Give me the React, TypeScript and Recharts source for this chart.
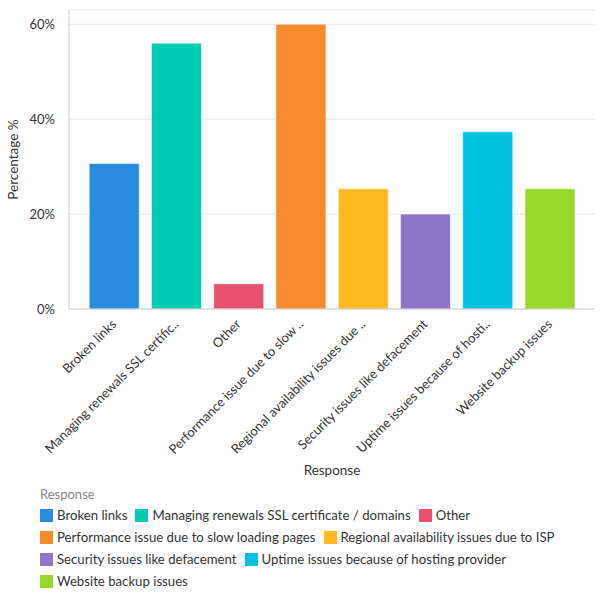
import { BarChart, Bar, Cell, XAxis, YAxis, CartesianGrid } from 'recharts';

// Survey: which website issues respondents ran into (share of 75 answers)
const categories = [
  'Broken links',
  'Managing renewals SSL certificate / domains',
  'Other',
  'Performance issue due to slow loading pages',
  'Regional availability issues due to ISP',
  'Security issues like defacement',
  'Uptime issues because of hosting provider',
  'Website backup issues',
];

// x axis shows clipped versions of the long names
const tickLabels = [
  'Broken links',
  'Managing renewals SSL certific..',
  'Other',
  'Performance issue due to slow ..',
  'Regional availability issues due ..',
  'Security issues like defacement',
  'Uptime issues because of hosti..',
  'Website backup issues',
];

const shares = [30.67, 56, 5.33, 60, 25.33, 20, 37.33, 25.33];

const colors = ['#2a8be1', '#00ccb4', '#e9526f', '#f88a2e', '#fdb822', '#8f74cc', '#00c1e0', '#96d92b'];

const yTicks = [0, 20, 40, 60];

const FONT = 'Lato, "Noto Sans", sans-serif';
const TEXT = '#333333';

const data = categories.map((name, i) => ({ name, label: tickLabels[i], value: shares[i] }));

function AngledTick({ x, y, index }: any) {
  return (
    <text
      transform={`translate(${x + 3},${y + 8}) rotate(-45)`}
      textAnchor="end"
      fontSize={13}
      fontFamily={FONT}
      fill={TEXT}
    >
      {tickLabels[index]}
    </text>
  );
}

function YTitle({ viewBox }: any) {
  const cy = viewBox.y + viewBox.height / 2;
  return (
    <text
      transform={`translate(18,${cy}) rotate(-90)`}
      textAnchor="middle"
      fontSize={13.5}
      fontFamily={FONT}
      fill={TEXT}
    >
      Percentage %
    </text>
  );
}

function ChartLegend() {
  return (
    <div style={{ position: 'absolute', left: 40, top: 484, width: 556, fontFamily: FONT, fontSize: 13.2, color: TEXT }}>
      <div style={{ color: '#888888', fontSize: 13, height: 20, lineHeight: '20px' }}>Response</div>
      <div style={{ display: 'flex', flexWrap: 'wrap' }}>
        {categories.map((name, i) => (
          <div key={name} style={{ display: 'flex', alignItems: 'center', height: 22, marginRight: 8 }}>
            <span style={{ width: 13, height: 13, background: colors[i], marginRight: 4, display: 'inline-block' }} />
            <span style={{ whiteSpace: 'nowrap' }}>{name}</span>
          </div>
        ))}
      </div>
    </div>
  );
}

export default function App() {
  return (
    <div style={{ position: 'absolute', left: 0, top: 0, width: 600, height: 600, background: '#fff' }}>
      <BarChart width={600} height={484} data={data} margin={{ top: 10, right: 5, left: 0, bottom: 0 }}>
        <CartesianGrid vertical={false} stroke="#e6e6e6" />
        <XAxis
          dataKey="name"
          interval={0}
          height={175}
          padding={{ left: 14, right: 14 }}
          stroke="#cccccc"
          tickLine={false}
          tick={<AngledTick />}
          label={{ value: 'Response', position: 'insideBottom', offset: 9, fontSize: 13.5, fontFamily: FONT, fill: TEXT }}
        />
        <YAxis
          width={69}
          domain={[0, 63]}
          ticks={yTicks}
          stroke="#cccccc"
          tickLine={false}
          tickMargin={8}
          tickFormatter={(v) => `${v}%`}
          tick={{ fontSize: 13, fontFamily: FONT, fill: TEXT }}
          label={<YTitle />}
        />
        <Bar dataKey="value" isAnimationActive={false} stroke="#ffffff" strokeOpacity={0.55}>
          {data.map((d, i) => (
            <Cell key={d.name} fill={colors[i]} />
          ))}
        </Bar>
      </BarChart>
      <ChartLegend />
    </div>
  );
}
